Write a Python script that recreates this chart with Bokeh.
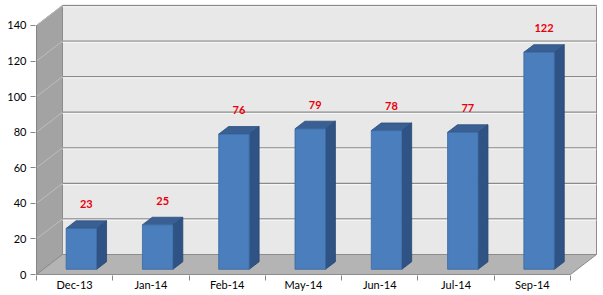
import numpy as np
from bokeh.plotting import figure
from bokeh.models import Range1d, FixedTicker, ColumnDataSource
from bokeh.core.properties import value
from bokeh.embed import file_html
from bokeh.resources import INLINE

categories = ["Dec-13", "Jan-14", "Feb-14", "May-14", "Jun-14", "Jul-14", "Sep-14"]
counts = [23, 25, 76, 79, 78, 77, 122]
y_ticks = [0, 20, 40, 60, 80, 100, 120, 140]

# oblique 3D projection (depth offset in data units)
DX, DY = 0.3408, 11.24
D0, D1 = 0.26, 0.64      # bar depth span (fraction of floor depth)
BW = 0.40                # bar width (category units)
LBL_OFF = 16.5           # label offset above bar value
n = len(categories)
ymax = y_ticks[-1]

p = figure(width=603, height=295,
           x_range=Range1d(-0.0131, 7.367), y_range=Range1d(-0.562, 151.8),
           output_backend="svg", toolbar_location=None,
           min_border_left=35, min_border_right=5, min_border_top=4, min_border_bottom=20)
p.outline_line_color = None
p.xgrid.visible = False
p.ygrid.visible = False
p.background_fill_color = "white"

# walls and floor
wall_line = "#8c8c8c"
p.patch([DX, n + DX, n + DX, DX], [DY, DY, ymax + DY, ymax + DY],
        fill_color="#e8e8e8", line_color=wall_line, line_width=1)
p.patch([0, DX, DX, 0], [0, DY, ymax + DY, ymax],
        fill_color="#a3a3a3", line_color=wall_line, line_width=1)
p.patch([0, n, n + DX, DX], [0, 0, DY, DY],
        fill_color="#b4b4b4", line_color=wall_line, line_width=1)

# gridlines on back wall and left wall
gt = [t for t in y_ticks if t > 0]
p.segment(x0=[DX] * len(gt), y0=[t + DY for t in gt], x1=[n + DX] * len(gt), y1=[t + DY for t in gt],
          line_color="#8a8a8a", line_width=1.3)
p.segment(x0=[DX] * len(gt), y0=[t + DY - 0.7 for t in gt], x1=[n + DX] * len(gt), y1=[t + DY - 0.7 for t in gt],
          line_color="#f8f8f8", line_width=1)
p.segment(x0=[0] * len(gt), y0=gt, x1=[DX] * len(gt), y1=[t + DY for t in gt],
          line_color="#bdbdbd", line_width=1)
# left axis line
p.segment(x0=[0], y0=[0], x1=[0], y1=[ymax], line_color="#868686", line_width=1)

# bars
dd = D1 - D0
fx, fy, sx, sy, tx, ty = [], [], [], [], [], []
for i, v in enumerate(counts):
    xl = i + 0.5 - BW / 2 + D0 * DX
    xr = xl + BW
    yb = D0 * DY
    yt = v + D0 * DY
    fx.append([xl, xr, xr, xl]); fy.append([yb, yb, yt, yt])
    sx.append([xr, xr + dd * DX, xr + dd * DX, xr]); sy.append([yb, yb + dd * DY, yt + dd * DY, yt])
    tx.append([xl, xr, xr + dd * DX, xl + dd * DX]); ty.append([yt, yt, yt + dd * DY, yt + dd * DY])

p.patches(sx, sy, fill_color="#2e5384", line_color="#27476f", line_width=0.8)
p.patches(tx, ty, fill_color="#395f93", line_color="#2c4f7c", line_width=0.8)
p.patches(fx, fy, fill_color="#4a7ebd", line_color="#3a689f", line_width=0.8)

# data labels
lx = [i + 0.5 + (D0 + D1) / 2 * DX for i in range(n)]
ly = [v + LBL_OFF for v in counts]
p.text(x=lx, y=ly, text=[str(v) for v in counts], text_color="#e8000b",
       text_font=value("Lato"), text_font_style="bold", text_font_size="11px",
       text_align="center", text_baseline="middle")

# axes
p.xaxis.ticker = FixedTicker(ticks=[i + 0.5 for i in range(n)], minor_ticks=list(range(n + 1)))
p.xaxis.major_label_overrides = {i + 0.5: c for i, c in enumerate(categories)}
p.xaxis.major_tick_out = 0
p.xaxis.major_tick_in = 0
p.xaxis.minor_tick_out = 5
p.xaxis.minor_tick_in = 0
p.xaxis.minor_tick_line_color = "#868686"
p.xaxis.axis_line_color = None
p.xaxis.major_label_standoff = -3
p.xaxis.major_label_text_font = "Lato"
p.xaxis.major_label_text_font_size = "11px"
p.xaxis.major_label_text_color = "black"

p.yaxis.ticker = FixedTicker(ticks=y_ticks, minor_ticks=[])
p.yaxis.major_tick_out = 5
p.yaxis.major_tick_in = 0
p.yaxis.major_tick_line_color = "#868686"
p.yaxis.axis_line_color = None
p.yaxis.major_label_standoff = 4
p.yaxis.major_label_text_font = "Lato"
p.yaxis.major_label_text_font_size = "11px"
p.yaxis.major_label_text_color = "black"

open("out.html", "w").write(file_html(p, INLINE))
